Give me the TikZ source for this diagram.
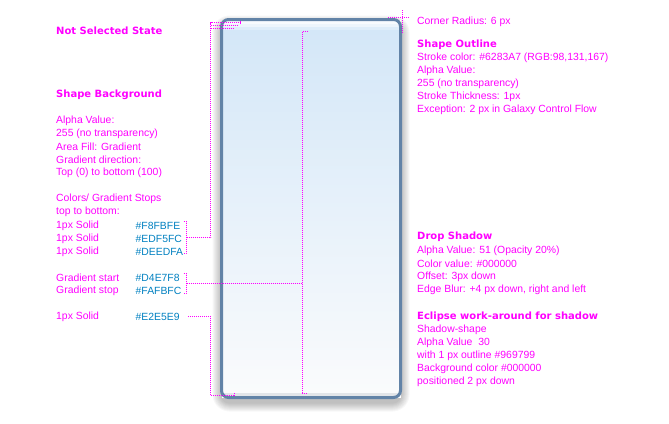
\documentclass[tikz,border=0pt]{standalone}
\usepackage{fontspec}
\setmainfont{Liberation Sans}
\newfontfamily\headfont{DejaVu Sans}
\usepackage{xcolor}
\definecolor{note}{HTML}{FF00FF}
\definecolor{hexblue}{HTML}{0080C0}
\definecolor{outline}{HTML}{6283A7}
\definecolor{stopA}{HTML}{F8FBFE}
\definecolor{stopB}{HTML}{EDF5FC}
\definecolor{stopC}{HTML}{DEEDFA}
\definecolor{gradtop}{HTML}{D4E7F8}
\definecolor{gradbot}{HTML}{FAFBFC}
\definecolor{stopE}{HTML}{E2E5E9}

\begin{document}
\begin{tikzpicture}[x=1pt,y=-1pt,
  txt/.style={anchor=west,inner sep=0pt,text=note,font=\fontsize{10.4}{12}\selectfont},
  hd/.style={txt,font=\headfont\fontsize{10}{12}\selectfont\bfseries},
  hex/.style={txt,text=hexblue},
  lead/.style={note,line width=0.9pt,dash pattern=on 1pt off 1pt}]
\useasboundingbox (0,0) rectangle (669,423);
% drop shadow
\foreach \i in {1,...,9}
  \fill[black,opacity=0.03,rounded corners=8+\i] (221.5-\i,19.5+5-\i) rectangle (400.5+\i,397.5+5+\i);
\fill[white] (221.5,19.5) rectangle (400.5,397.5);
% shape background
\begin{scope}
\clip[rounded corners=7] (221.5,19.5) rectangle (400.5,397.5);
\fill[stopA] (220,18) rectangle (402,23.5);
\fill[stopB] (220,23.5) rectangle (402,26.5);
\fill[stopC] (220,26.5) rectangle (402,30);
\shade[top color=gradtop,bottom color=gradbot] (220,30) rectangle (402,392.5);
\fill[stopE] (220,392.5) rectangle (402,399);
\end{scope}
\draw[outline,line width=3pt,rounded corners=7] (221.5,19.5) rectangle (400.5,397.5);
% left notes
\node[hd] (state) at (56,31) {Not Selected State};
\node[hd] (bghead) at (56,95) {Shape Background};
\node[txt] (bg1) at (56,121) {Alpha Value:};
\node[txt] (bg2) at (56,134) {255 (no transparency)};
\node[txt] (bg3) at (56,147) {Area Fill: Gradient};
\node[txt] (bg4) at (56,160) {Gradient direction:};
\node[txt] (bg5) at (56,173) {Top (0) to bottom (100)};
\node[txt] (bg6) at (56,199) {Colors/ Gradient Stops};
\node[txt] (bg7) at (56,212) {top to bottom:};
\node[txt] (s1) at (56,226) {1px Solid};
\node[txt] (s2) at (56,239) {1px Solid};
\node[txt] (s3) at (56,252) {1px Solid};
\node[txt] (g1) at (56,278) {Gradient start};
\node[txt] (g2) at (56,291) {Gradient stop};
\node[txt] (s4) at (56,317) {1px Solid};
\node[hex] (h1) at (135.5,226) {\#F8FBFE};
\node[hex] (h2) at (135.5,239) {\#EDF5FC};
\node[hex] (h3) at (135.5,252) {\#DEEDFA};
\node[hex] (h4) at (135.5,278) {\#D4E7F8};
\node[hex] (h5) at (135.5,291) {\#FAFBFC};
\node[hex] (h6) at (135.5,317) {\#E2E5E9};
% right notes
\node[txt] (radius) at (417,21.5) {Corner Radius: 6 px};
\node[hd] (olhead) at (417,44.5) {Shape Outline};
\node[txt] (ol1) at (417,57.5) {Stroke color: \#6283A7 (RGB:98,131,167)};
\node[txt] (ol2) at (417,70.5) {Alpha Value:};
\node[txt] (ol3) at (417,83.5) {255 (no transparency)};
\node[txt] (ol4) at (417,96.5) {Stroke Thickness: 1px};
\node[txt] (ol5) at (417,109.5) {Exception: 2 px in Galaxy Control Flow};
\node[hd] (dshead) at (417,237) {Drop Shadow};
\node[txt] (ds1) at (417,250.5) {Alpha Value: 51 (Opacity 20\%)};
\node[txt] (ds2) at (417,263.5) {Color value: \#000000};
\node[txt] (ds3) at (417,276.5) {Offset: 3px down};
\node[txt] (ds4) at (417,290) {Edge Blur: +4 px down, right and left};
\node[hd] (eclhead) at (417,317) {Eclipse work-around for shadow};
\node[txt] (ec1) at (417,330) {Shadow-shape};
\node[txt] (ec2) at (417,343) {Alpha Value\ \ 30};
\node[txt] (ec3) at (417,356) {with 1 px outline \#969799};
\node[txt] (ec4) at (417,369) {Background color \#000000};
\node[txt] (ec5) at (417,382) {positioned 2 px down};
% leader coordinates
\coordinate (brA) at (186.5,221.5);
\coordinate (brB) at (186.5,253);
\coordinate (brC) at (186.5,273.5);
\coordinate (brD) at (186.5,293);
\coordinate (stripes) at (210.7,237.3);
\coordinate (midline) at (302,283.3);
% leaders for the top stripes
\draw[lead] (183.5,221.5) -- (brA) -- (brB) -- (183.5,253);
\draw[lead] (186.5,237.3) -- (stripes) -- (210.7,22.7) -- (240,22.7);
\draw[lead] (240,20.7) -- (240,24.7);
\draw[lead] (210.7,25.7) -- (238,25.7);
\draw[lead] (210.7,28.7) -- (234,28.7);
% leader for the gradient
\draw[lead] (183.5,273.5) -- (brC) -- (brD) -- (183.5,293);
\draw[lead] (186.5,283.3) -- (midline);
\draw[lead] (308,31.7) -- (302,31.7) -- (302,393.3) -- (308,393.3);
% leader for the bottom stripe
\draw[lead] (188,316.3) -- (210.7,316.3) -- (210.7,395) -- (234,395);
\draw[lead] (234,393) -- (234,397);
% corner radius marker
\draw[lead] (402.5,10) -- (402.5,34);
\draw[lead] (388,17.3) -- (409,17.3);
\end{tikzpicture}
\end{document}
